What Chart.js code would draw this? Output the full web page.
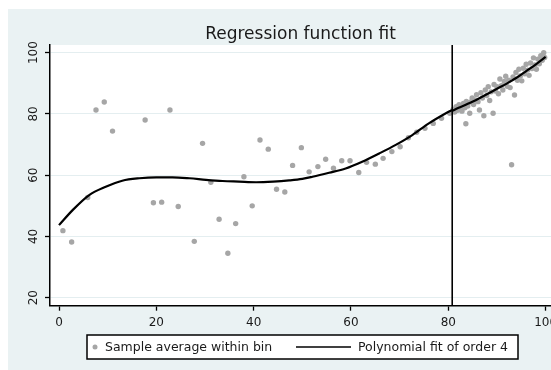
<!DOCTYPE html>
<html>
<head>
<meta charset="utf-8">
<script src="https://cdn.jsdelivr.net/npm/chart.js@4/dist/chart.umd.min.js"></script>
<style>
  html, body { margin: 0; padding: 0; overflow: hidden; background: #fff; }
  canvas { display: block; }
</style>
</head>
<body>
<canvas id="rdplot" width="551" height="370"></canvas>
<script>
// bin averages (x = running variable, y = outcome)
var binX = [0.8, 2.6, 5.9, 7.6, 9.3, 11.0, 17.7, 19.4, 21.1, 22.8, 24.5, 27.8, 29.5, 31.2, 32.9,
    34.7, 36.3, 38.0, 39.7, 41.3, 43.0, 44.7, 46.4, 48.0, 49.8, 51.4, 53.2, 54.8, 56.4, 58.1,
    59.8, 61.6, 63.2, 65.0, 66.6, 68.4, 70.1, 71.8, 73.5, 75.2, 76.9, 78.6, 80.3,
    81.0, 81.3, 81.6, 81.9, 82.2, 82.5, 82.8, 83.1, 83.4, 83.6, 83.7, 84.0, 84.4, 84.6, 84.9,
    85.2, 85.5, 85.8, 86.1, 86.4, 86.7, 87.0, 87.3, 87.6, 87.9, 88.2, 88.5, 88.8, 89.2,
    89.4, 89.7, 90.0, 90.3, 90.6, 90.9, 91.2, 91.5, 91.8, 92.1, 92.4, 92.7, 93.0, 93.3,
    93.6, 93.9, 94.2, 94.5, 94.8, 95.1, 95.4, 95.7, 96.0, 96.3, 96.6, 96.9, 97.2, 97.5,
    97.8, 98.1, 98.4, 98.7, 99.0, 99.3, 99.6, 99.8];
var binY = [41.9, 38.2, 52.7, 81.3, 83.9, 74.4, 78.0, 51.0, 51.2, 81.3, 49.8, 38.4, 70.4, 57.7, 45.6,
    34.5, 44.2, 59.5, 50.0, 71.5, 68.5, 55.4, 54.5, 63.2, 69.0, 61.1, 62.8, 65.2, 62.3, 64.7,
    64.7, 60.9, 64.2, 63.6, 65.5, 67.7, 69.3, 72.2, 74.0, 75.3, 76.9, 78.6, 80.2,
    81.5, 80.6, 82.4, 81.2, 83.0, 81.6, 80.9, 83.4, 82.0, 76.8, 84.1, 82.6, 80.2, 83.9, 85.2,
    83.1, 84.6, 86.3, 84.0, 81.3, 86.9, 85.2, 79.4, 87.8, 86.0, 88.9, 84.4, 87.2, 80.2,
    89.6, 87.5, 88.9, 86.6, 91.4, 89.2, 87.8, 90.6, 92.3, 89.0, 91.0, 88.6, 63.4, 92.1,
    86.2, 93.5, 91.0, 94.6, 92.4, 90.8, 94.9, 93.1, 96.2, 94.3, 92.6, 96.6, 94.8, 98.3,
    96.0, 94.6, 97.9, 96.4, 99.0, 97.5, 100.0, 98.4];

// fitted polynomial, left and right of the cutoff
var fitLeftX = [0, 2.8, 6.2, 9.6, 13.0, 16.5, 20.0, 23.3, 26.8, 30.2, 33.6, 37.0, 40.5, 44.0,
    47.3, 50.0, 52.1, 55.5, 58.9, 62.3, 65.8, 69.2, 72.6, 76.0, 79.5, 80.8];
var fitLeftY = [43.7, 48.6, 53.5, 56.2, 58.2, 59.0, 59.3, 59.3, 59.0, 58.5, 58.1, 57.9, 57.7, 57.9,
    58.3, 58.8, 59.5, 60.8, 62.2, 64.4, 67.1, 69.9, 73.1, 76.9, 80.2, 81.3];
var fitRightX = [80.8, 82, 84, 86, 88, 90, 92, 94, 96, 98, 100];
var fitRightY = [81.0, 81.9, 83.3, 84.8, 86.5, 88.2, 89.9, 91.8, 94.0, 96.2, 98.6];

var cutoff = 80.8;
var tickStep = 20;
var xMin = -1.85, xMax = 101.1;
var yMin = 17.4, yMax = 102.5;

var titleText = "Regression function fit";
var binLabel = "Sample average within bin";
var fitLabel = "Polynomial fit of order 4";

function pairs(xs, ys) {
    var out = [];
    for (var i = 0; i < xs.length; i++) {
        out.push({x: xs[i], y: ys[i]});
    }
    return out;
}

// stata style background: light graph region, white plot region
var bgPlugin = {
    id: "bg",
    beforeDraw: function (chart) {
        var ctx = chart.ctx, a = chart.chartArea;
        ctx.save();
        ctx.fillStyle = "#ffffff";
        ctx.fillRect(0, 0, chart.width, chart.height);
        ctx.fillStyle = "#eaf2f3";
        ctx.fillRect(8, 9, chart.width - 8, chart.height - 9);
        ctx.fillStyle = "#ffffff";
        ctx.fillRect(a.left, a.top, a.right - a.left, a.bottom - a.top);
        ctx.restore();
    }
};

// boxed legend below the axis, like the stata one
var legendPlugin = {
    id: "boxLegend",
    afterDraw: function (chart) {
        var ctx = chart.ctx;
        var ds = chart.data.datasets;
        var top = 335, h = 24, left = 87, right = 518;
        var cy = top + h / 2;
        ctx.save();
        ctx.fillStyle = "#ffffff";
        ctx.fillRect(left, top, right - left, h);
        ctx.strokeStyle = "#000000";
        ctx.lineWidth = 1.5;
        ctx.strokeRect(left, top, right - left, h);

        ctx.fillStyle = ds[3].backgroundColor;
        ctx.beginPath();
        ctx.arc(95, cy, 2.5, 0, Math.PI * 2);
        ctx.fill();

        ctx.strokeStyle = ds[0].borderColor;
        ctx.lineWidth = 1.5;
        ctx.beginPath();
        ctx.moveTo(296, cy);
        ctx.lineTo(351, cy);
        ctx.stroke();

        ctx.fillStyle = "#1a1a1a";
        ctx.font = "12.5px 'DejaVu Sans'";
        ctx.textBaseline = "middle";
        ctx.textAlign = "left";
        ctx.fillText(ds[3].label, 105, cy + 0.5);
        ctx.fillText(ds[0].label, 358, cy + 0.5);
        ctx.restore();
    }
};

Chart.defaults.font.family = "'DejaVu Sans'";

var chart = new Chart(document.getElementById("rdplot"), {
    type: "scatter",
    data: {
        datasets: [{
            type: "line",
            label: fitLabel,
            data: pairs(fitLeftX, fitLeftY),
            borderColor: "#000000",
            borderWidth: 2.2,
            pointRadius: 0,
            cubicInterpolationMode: "monotone",
            order: 0
        }, {
            type: "line",
            label: fitLabel,
            data: pairs(fitRightX, fitRightY),
            borderColor: "#000000",
            borderWidth: 2.2,
            pointRadius: 0,
            cubicInterpolationMode: "monotone",
            order: 0
        }, {
            type: "line",
            label: "cutoff",
            data: [{x: cutoff, y: yMin}, {x: cutoff, y: yMax}],
            borderColor: "#000000",
            borderWidth: 1.6,
            pointRadius: 0,
            order: 1
        }, {
            label: binLabel,
            data: pairs(binX, binY),
            backgroundColor: "#a6a6a6",
            borderWidth: 0,
            pointRadius: 2.7,
            order: 2
        }]
    },
    options: {
        responsive: false,
        animation: false,
        devicePixelRatio: 1,
        layout: {autoPadding: false, padding: {left: 0, top: 24, right: 0, bottom: 0}},
        plugins: {
            legend: {display: false},
            tooltip: {enabled: false},
            title: {
                display: true,
                fullSize: false,
                text: titleText,
                color: "#1a1a1a",
                font: {size: 17, weight: "normal"},
                padding: {top: 0, bottom: 0.6}
            }
        },
        scales: {
            x: {
                type: "linear",
                min: xMin,
                max: xMax,
                afterFit: function (scale) {
                    scale.height = 64.3;
                    // let the 100 label run off the edge like the cropped original
                    scale.paddingRight = 0;
                    scale.paddingLeft = 0;
                },
                ticks: {
                    stepSize: tickStep,
                    color: "#1a1a1a",
                    font: {size: 12},
                    padding: 5,
                    maxRotation: 0,
                    includeBounds: false
                },
                grid: {
                    drawOnChartArea: false,
                    tickLength: 5,
                    tickColor: "#000000",
                    tickWidth: 1.3
                },
                border: {color: "#000000", width: 1.5}
            },
            y: {
                type: "linear",
                min: yMin,
                max: yMax,
                afterFit: function (scale) { scale.width = 50; },
                ticks: {
                    stepSize: tickStep,
                    color: "#1a1a1a",
                    font: {size: 12},
                    padding: 0,
                    minRotation: 90,
                    maxRotation: 90,
                    crossAlign: "center",
                    includeBounds: false
                },
                grid: {
                    color: "#e4eef0",
                    lineWidth: 1,
                    tickLength: 5,
                    tickColor: "#000000",
                    tickWidth: 1.3
                },
                border: {color: "#000000", width: 1.5}
            }
        }
    },
    plugins: [bgPlugin, legendPlugin]
});
</script>
</body>
</html>
